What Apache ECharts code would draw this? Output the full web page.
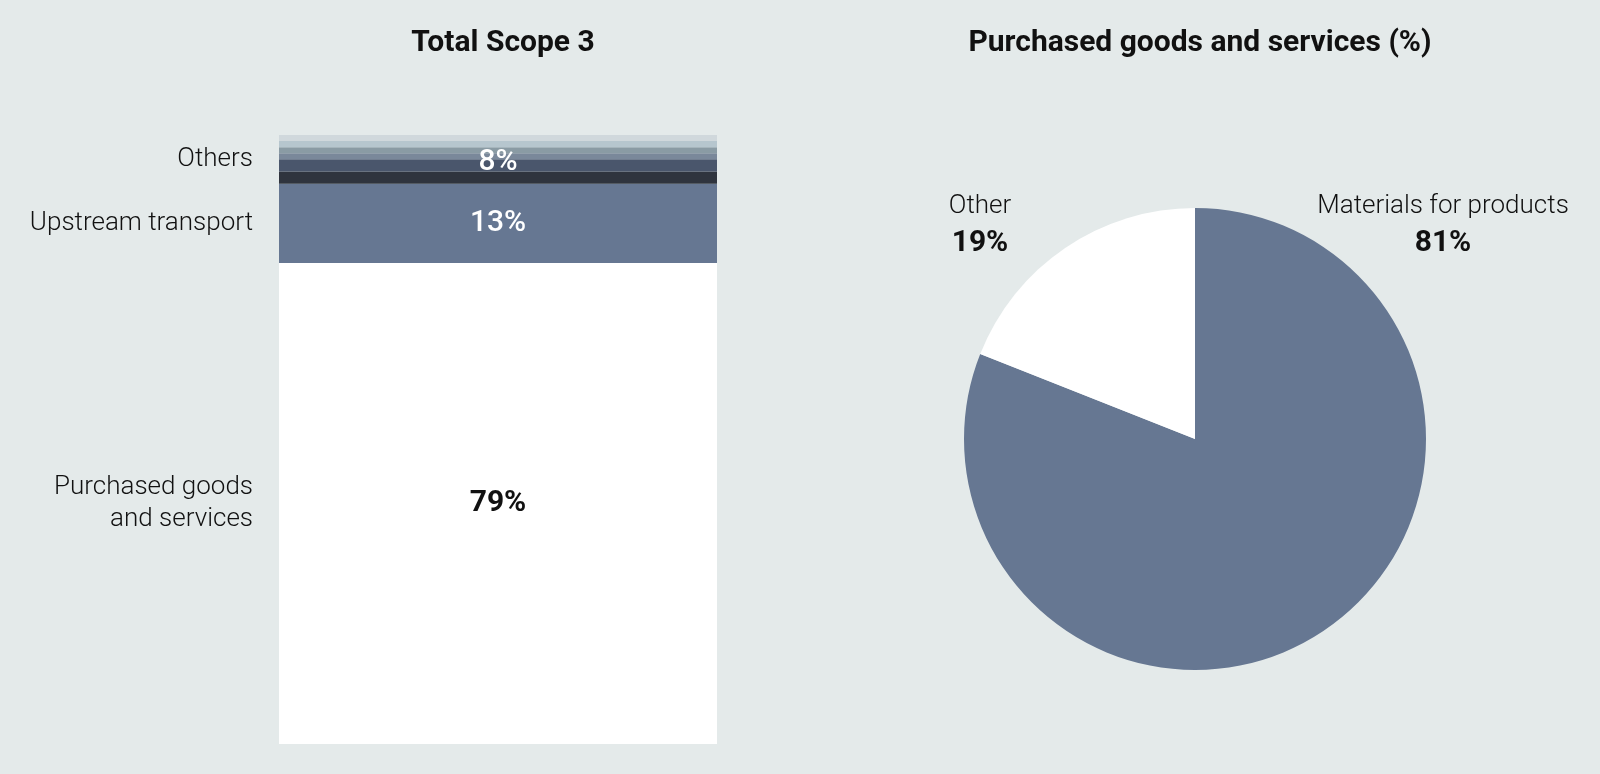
<!DOCTYPE html>
<html lang="en">
<head>
<meta charset="UTF-8">
<title>Scope 3</title>
<style>
  html, body { margin: 0; padding: 0; width: 100%; height: 100%; background: #e4eaea; }
  #main { width: 1600px; height: 774px; }
</style>
</head>
<body>
<div id="main"></div>
<script src="https://cdn.jsdelivr.net/npm/echarts@6/dist/echarts.min.js"></script>
<script>
// stacked bar: bottom to top
var barNames = ['Purchased goods\nand services', 'Upstream transport', 'Others'];
var barValues = [79, 13];
var othersParts = [2, 2, 1, 1, 1, 1];
var othersColors = ['#2f343e', '#4a566c', '#7a889a', '#8a9ba4', '#b6c6ce', '#d0d8dc'];

// pie
var pieNames = ['Materials for products', 'Other'];
var pieValues = [81, 19];

var othersTotal = othersParts.reduce(function (a, b) { return a + b; }, 0);

// midpoints for the left-hand names
var groupValues = barValues.concat([othersTotal]);
var mids = [];
var acc = 0;
groupValues.forEach(function (v) {
  mids.push(acc + v / 2);
  acc += v;
});

var font = 'Roboto, "Noto Sans", sans-serif';

var series = [
  {
    type: 'bar', stack: 'scope', barWidth: '100%',
    data: [barValues[0]],
    itemStyle: { color: '#ffffff' },
    label: { show: true, position: 'inside', formatter: '{c}%', color: '#111', fontSize: 30, fontWeight: 'bold', fontFamily: font }
  },
  {
    type: 'bar', stack: 'scope', barWidth: '100%',
    data: [barValues[1]],
    itemStyle: { color: '#667792' },
    label: { show: true, position: 'inside', formatter: '{c}%', color: '#fff', fontSize: 30, fontWeight: 500, fontFamily: font }
  }
];
othersParts.forEach(function (v, i) {
  series.push({
    type: 'bar', stack: 'scope', barWidth: '100%',
    data: [v],
    itemStyle: { color: othersColors[i] },
    label: {
      show: i === 1, position: 'inside', offset: [0, -3],
      formatter: othersTotal + '%',
      color: '#fff', fontSize: 30, fontWeight: 500, fontFamily: font
    }
  });
});

series.push({
  type: 'pie',
  center: [1195, 439],
  radius: 231,
  startAngle: 90,
  clockwise: true,
  silent: true,
  data: pieNames.map(function (n, i) {
    return { name: n, value: pieValues[i], itemStyle: { color: i === 0 ? '#667792' : '#ffffff' } };
  }),
  label: {
    show: true,
    overflow: 'none',
    formatter: '{n|{b}}\n{v|{c}%}',
    rich: {
      n: { fontSize: 26, fontWeight: 300, color: '#111', lineHeight: 37, fontFamily: font },
      v: { fontSize: 30, fontWeight: 'bold', color: '#111', lineHeight: 37, fontFamily: font }
    }
  },
  labelLine: { show: false },
  labelLayout: function (p) {
    return p.dataIndex === 0
      ? { x: 1443, y: 225, align: 'center', verticalAlign: 'middle' }
      : { x: 980, y: 225, align: 'center', verticalAlign: 'middle' };
  }
});

var myChart = echarts.init(document.getElementById('main'));
var option = {
  backgroundColor: '#e4eaea',
  animation: false,
  title: [
    {
      text: 'Total Scope 3', left: 498, top: 23, textAlign: 'center',
      textStyle: { fontSize: 30, fontWeight: 'bold', color: '#111', fontFamily: font }
    },
    {
      text: 'Purchased goods and services (%)', left: 1195, top: 23, textAlign: 'center',
      textStyle: { fontSize: 30, fontWeight: 'bold', color: '#111', fontFamily: font }
    }
  ],
  grid: { left: 279, width: 438, top: 135, bottom: 30 },
  xAxis: { type: 'category', data: ['Scope 3'], show: false },
  yAxis: {
    type: 'value', min: 0, max: 100,
    splitLine: { show: false }, axisLine: { show: false }, axisTick: { show: false },
    axisLabel: {
      customValues: mids,
      margin: 26,
      formatter: function (val) {
        var idx = mids.indexOf(val);
        return idx >= 0 ? barNames[idx] : '';
      },
      color: '#111', fontSize: 26, fontWeight: 300, lineHeight: 32, fontFamily: font, align: 'right'
    }
  },
  series: series
};

myChart.setOption(option);

window.onresize = function () {
  myChart.resize();
};
</script>
</body>
</html>
